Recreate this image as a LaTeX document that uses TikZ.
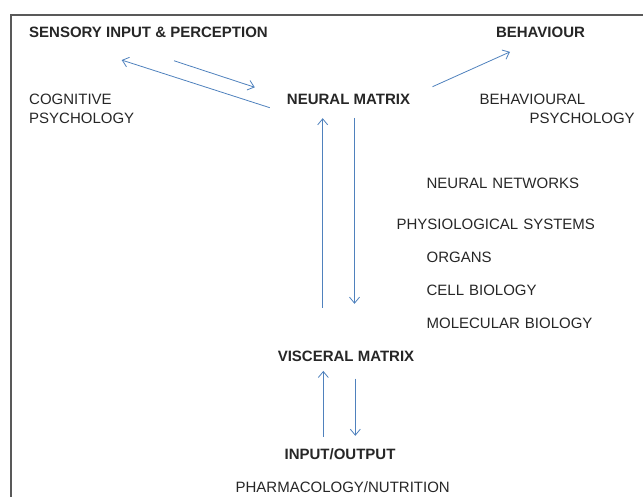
\documentclass[tikz,border=0pt]{standalone}
\usepackage{fontspec}
\setmainfont{Liberation Sans}
\usepackage{tikz}
\usetikzlibrary{arrows.meta}
\definecolor{linkblue}{RGB}{79,129,189}
\definecolor{ink}{RGB}{38,38,38}

\begin{document}
\begin{tikzpicture}[
    x=1pt, y=-1pt,
    node distance=33pt,
    >={Straight Barb[length=6pt,width=10pt]},
    font=\fontsize{15}{19.5}\selectfont,
    head/.style={
		inner sep=0pt,
		text=ink,
		font=\fontsize{15}{19.5}\selectfont\bfseries,
		text height=10.7pt,
		text depth=0pt
	},
	field/.style={
		inner sep=0pt,
		text=ink,
		text height=10.7pt,
		text depth=0pt
	},
	block/.style={
		inner sep=0pt,
		text=ink,
		align=left
	},
	level/.style={
		inner sep=0pt,
		text=ink,
		text width=220pt,
		align=left,
		text height=10.7pt,
		text depth=0pt
	},
	link/.style={
		draw=linkblue,
		line width=0.8pt,
		->
	},
	frame/.style={
		draw=black!65,
		line width=1.5pt
	}
  ]

 \useasboundingbox (0,0) rectangle (643,497);
 \draw [frame] (11,510) -- (11,15) -- (660,15);

% // top row
 \node [head] (sensory) at (148.5,32.5) {SENSORY INPUT \& PERCEPTION};
 \node [head] (behaviour) at (540.5,32.5) {BEHAVIOUR};
 \node [head] (neural) at (348.5,99) {NEURAL MATRIX};
 \node [block, anchor=west] (cogpsy) at (29,108.75) {COGNITIVE\\PSYCHOLOGY};
 \node [block, anchor=west] (behpsy) at (479.5,108.75) {BEHAVIOURAL\\\hspace*{50pt}PSYCHOLOGY};

% // levels
 \node [level] (networks) at (536.6,183) {NEURAL NETWORKS};
 \node [level, below of=networks, yshift=-8pt, xshift=-30pt] (systems) {PHYSIOLOGICAL SYSTEMS};
 \node [level, below of=systems, xshift=30pt] (organs) {ORGANS};
 \node [level, below of=organs] (cells) {CELL BIOLOGY};
 \node [level, below of=cells] (molecules) {MOLECULAR BIOLOGY};

% // bottom
 \node [head] (visceral) at (346,356) {VISCERAL MATRIX};
 \node [head] (inout) at (340,454) {INPUT/OUTPUT};
 \node [field] (pharma) at (342.7,487.5) {PHARMACOLOGY/NUTRITION};

 \draw [link] ([xshift=-17pt,yshift=-8.7pt]neural.west) -- ([xshift=-26.8pt,yshift=-22pt]sensory.south);
 \draw [link] ([xshift=25.5pt,yshift=-22.7pt]sensory.south) -- ([xshift=-32pt,yshift=11.7pt]neural.west);
 \draw [link] ([xshift=22.3pt,yshift=12.3pt]neural.east) -- ([xshift=-30.5pt,yshift=-13.85pt]behaviour.south);

 \draw [link] ([xshift=-23.3pt,yshift=42.65pt]visceral.north) -- ([xshift=-25.8pt,yshift=-13.65pt]neural.south);
 \draw [link] ([xshift=6pt,yshift=-13.35pt]neural.south) -- ([xshift=8.5pt,yshift=46.65pt]visceral.north);
 \draw [link] ([xshift=-16.7pt,yshift=11.95pt]inout.north) -- ([xshift=-22.7pt,yshift=-9.35pt]visceral.south);
 \draw [link] ([xshift=9.3pt,yshift=-16.95pt]visceral.south) -- ([xshift=15.3pt,yshift=12.65pt]inout.north);

\end{tikzpicture}
\end{document}
